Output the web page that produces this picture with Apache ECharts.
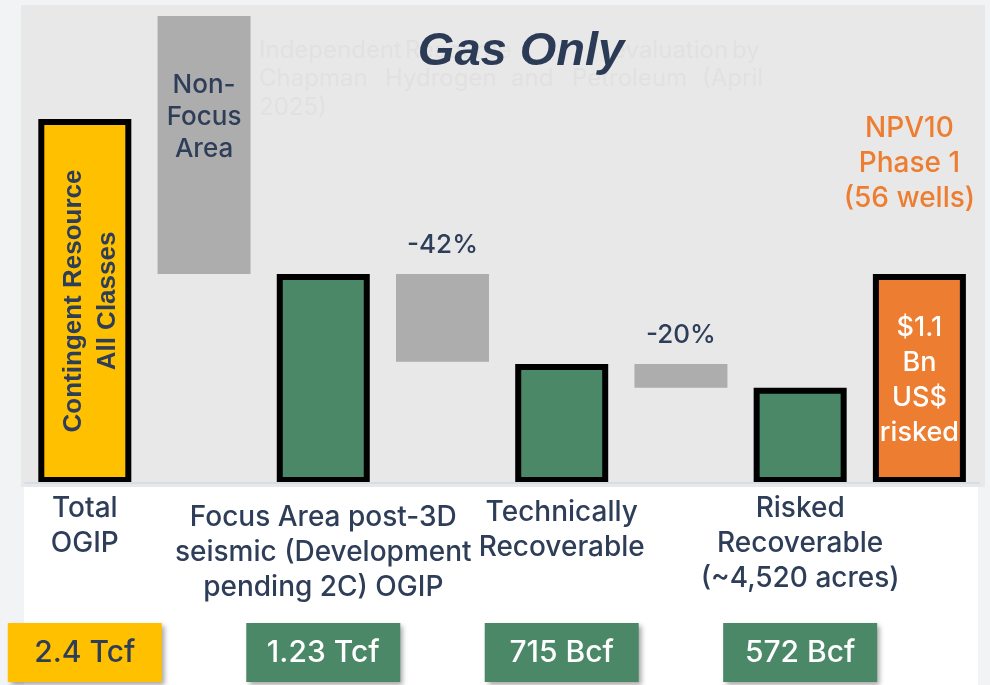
<!DOCTYPE html>
<html><head><meta charset="utf-8">
<script src="https://cdn.jsdelivr.net/npm/echarts@6/dist/echarts.min.js"></script>
<style>html,body{margin:0;padding:0;background:#f2f3f5;}#c{width:990px;height:685px;}</style>
</head><body><div id="c"></div>
<script>
// ---- data ----
const categories = ['Total OGIP', 'Non-Focus Area', 'Focus Area OGIP', '-42%', 'Technically Recoverable', '-20%', 'Risked Recoverable', 'NPV10 Phase 1'];
const barBottoms = [0, 1.36, 0, 0.79, 0, 0.62, 0, 0];
const barTops    = [2.37, 3.04, 1.36, 1.36, 0.775, 0.775, 0.62, 1.36];
const barKinds   = ['total', 'nonfocus', 'stage', 'loss', 'stage', 'loss', 'stage', 'npv'];
const barTexts   = ['Contingent Resource\nAll Classes', 'Non-\nFocus\nArea', '', '-42%', '', '-20%', '', '$1.1\nBn\nUS$\nrisked'];
const categoryLabels = ['Total\nOGIP', '', 'Focus Area post-3D\nseismic (Development\npending 2C) OGIP', '', 'Technically\nRecoverable', '', 'Risked\nRecoverable\n(~4,520 acres)', ''];
const valueBoxes = ['2.4 Tcf', '', '1.23 Tcf', '', '715 Bcf', '', '572 Bcf', ''];
const npvHeading = 'NPV10\nPhase 1\n(56 wells)';
const titleText = 'Gas Only';
const noteLines = [['Independent', 'Resource', 'evaluation', 'by'], ['Chapman', 'Hydrogen', 'and', 'Petroleum', '(April'], ['2025)']];

// ---- styles ----
const NAVY = '#2e3d58', GREEN = '#4a8867', YELLOW = '#ffc000', GREY = '#adadad', ORANGE = '#ed7d31';
const FONT = 'Inter, "Liberation Sans", Arial, sans-serif';
const FW = 500;
const labelLead = [0, 0, 9, 0, 4, 0, 0, 0]; // extra top space per category label (px)

function itemFor(kind) {
  if (kind === 'total') return { color: YELLOW, borderColor: '#000', borderWidth: 6 };
  if (kind === 'stage') return { color: GREEN, borderColor: '#000', borderWidth: 6 };
  if (kind === 'npv') return { color: ORANGE, borderColor: '#000', borderWidth: 6 };
  return { color: GREY, borderWidth: 0 };
}
function labelFor(kind, text) {
  if (kind === 'total') return { show: true, position: 'inside', rotate: 90, offset: [0, 6], formatter: text, color: NAVY,
    fontFamily: '"Liberation Sans", Arial, sans-serif', fontWeight: 'bold', fontSize: 26, lineHeight: 34, align: 'center', verticalAlign: 'middle' };
  if (kind === 'nonfocus') return { show: true, position: 'insideTop', distance: 53, formatter: text, color: NAVY,
    fontFamily: FONT, fontWeight: FW, fontSize: 26, lineHeight: 32 };
  if (kind === 'loss') return { show: true, position: 'top', distance: 14, formatter: text, color: NAVY,
    fontFamily: FONT, fontWeight: FW, fontSize: 26, lineHeight: 30 };
  if (kind === 'npv') return { show: true, position: 'inside', offset: [0, 2], formatter: text, color: '#fff',
    fontFamily: FONT, fontWeight: FW, fontSize: 27, lineHeight: 35 };
  return { show: false };
}

const chart = echarts.init(document.getElementById('c'), null, { renderer: 'canvas' });

const noteX = [[259, 405, 612, 732], [259, 385, 511, 572, 702], [259]];
const noteY = [51, 79, 108];
const noteGraphics = [];
noteLines.forEach((ln, li) => ln.forEach((w, wi) => noteGraphics.push({
  type: 'text', z: 1, silent: true, x: noteX[li][wi], y: noteY[li],
  style: { text: w, fill: '#e1e1e1', font: '24px ' + FONT, textAlign: 'left', textVerticalAlign: 'middle' }
})));

const richCat = { t: { fontFamily: FONT, fontWeight: FW, fontSize: 28, lineHeight: 35, color: NAVY, align: 'center' } };
[4, 9].forEach(h => { richCat['s' + h] = { fontSize: 2, lineHeight: h, height: h }; });

const option = {
  backgroundColor: 'transparent',
  animation: false,
  grid: { left: 25.2, right: 11, top: 16, bottom: 202, containLabel: false },
  xAxis: [{
    type: 'category', data: categories, position: 'bottom', z: 5,
    axisTick: { show: false },
    axisLine: { show: true, lineStyle: { color: '#d6dde9', width: 2 } },
    axisLabel: {
      interval: 0, margin: 8,
      formatter: (v, i) => {
        if (!categoryLabels[i]) return '';
        const body = categoryLabels[i].split('\n').map(s => '{t|' + s + '}').join('\n');
        return labelLead[i] ? '{s' + labelLead[i] + '|\u200b}\n' + body : body;
      },
      rich: richCat
    }
  }, {
    type: 'category', data: categories, position: 'bottom', offset: 0,
    axisTick: { show: false }, axisLine: { show: false },
    axisLabel: {
      interval: 0, margin: 140,
      formatter: (v, i) => valueBoxes[i] ? (i === 0 ? '{y|' + valueBoxes[i] + '}' : '{g|' + valueBoxes[i] + '}') : '',
      rich: {
        y: { backgroundColor: YELLOW, color: NAVY, fontFamily: FONT, fontWeight: FW, fontSize: 30, width: 154, height: 59, lineHeight: 59, align: 'center',
             shadowColor: 'rgba(0,0,0,0.35)', shadowBlur: 5, shadowOffsetX: 3, shadowOffsetY: 3 },
        g: { backgroundColor: GREEN, color: '#fff', fontFamily: FONT, fontWeight: FW, fontSize: 30, width: 154, height: 59, lineHeight: 59, align: 'center',
             shadowColor: 'rgba(0,0,0,0.35)', shadowBlur: 5, shadowOffsetX: 3, shadowOffsetY: 3 }
      }
    }
  }],
  yAxis: { type: 'value', min: 0, max: 3.04, show: false, splitLine: { show: false } },
  series: [{
    type: 'bar', stack: 'w', barWidth: 93, silent: true,
    itemStyle: { color: 'rgba(0,0,0,0)' },
    data: barBottoms
  }, {
    type: 'bar', stack: 'w', barWidth: 93,
    data: barTops.map((t, i) => ({
      value: +(t - barBottoms[i]).toFixed(3),
      itemStyle: itemFor(barKinds[i]),
      label: labelFor(barKinds[i], barTexts[i])
    }))
  }],
  graphic: [
    { type: 'rect', z: -10, silent: true, shape: { x: 21, y: 5, width: 964, height: 482 }, style: { fill: '#e8e8e8' } },
    { type: 'rect', z: -10, silent: true, shape: { x: 24, y: 487, width: 954, height: 198 }, style: { fill: '#ffffff' } }
  ].concat(noteGraphics).concat([
    { type: 'text', z: 10, silent: true, x: 521, y: 52,
      style: { text: titleText, fill: '#2b3a55', font: 'italic bold 47px "Liberation Sans", Arial, sans-serif', textAlign: 'center', textVerticalAlign: 'middle' } }
  ])
};
chart.setOption(option);

// NPV heading above the orange bar, positioned from the chart's own scales
const npvIdx = barKinds.indexOf('npv');
const p = chart.convertToPixel({ xAxisIndex: 0, yAxisIndex: 0 }, [npvIdx, barTops[npvIdx]]);
chart.setOption({ graphic: option.graphic.concat([{
  type: 'text', z: 10, silent: true, x: p[0] - 10, y: p[1] - 111,
  style: { text: npvHeading, fill: ORANGE, font: FW + ' 28px ' + FONT, lineHeight: 35, textAlign: 'center', textVerticalAlign: 'middle' }
}]) });
</script></body></html>
